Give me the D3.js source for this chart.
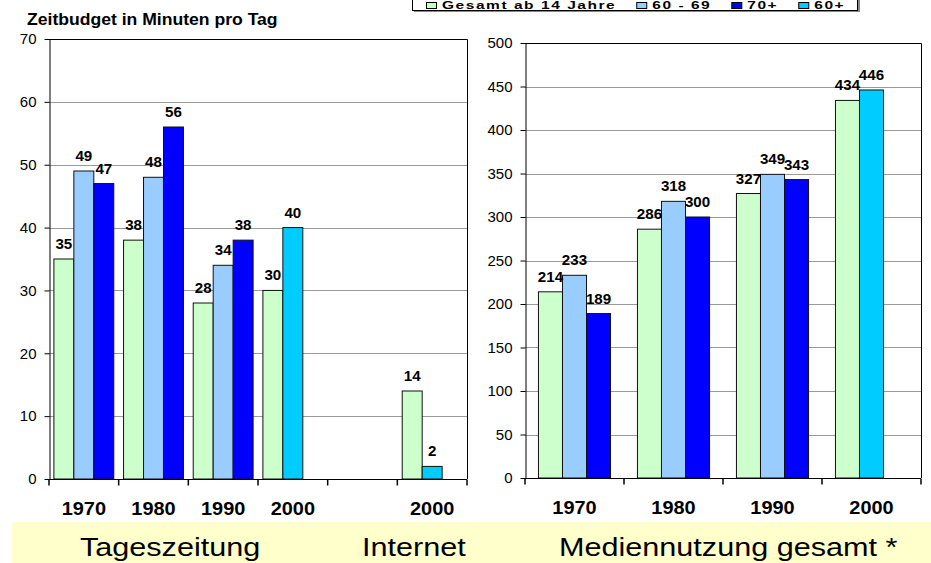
<!DOCTYPE html>
<html>
<head>
<meta charset="utf-8">
<script src="https://cdn.jsdelivr.net/npm/d3@7"></script>
<style>
  body { margin:0; background:#fff; }
  svg { display:block; font-family:"Liberation Sans", Arial, sans-serif; }
</style>
</head>
<body>
<script>
// series (legend order)
var seriesNames = ["Gesamt ab 14 Jahre", "60 - 69", "70+", "60+"];
var seriesColors = ["#CCFFCC", "#99CCFF", "#0000FF", "#00CCFF"];
var seriesSlot = [0, 1, 2, 1];   // position of the bar inside a category

// left panel: Tageszeitung (1970-2000) + Internet (2000)
var leftLabels   = ["1970", "1980", "1990", "2000", "", "2000"];
var leftGesamt   = [35, 38, 28, 30, null, 14];
var left6069     = [49, 48, 34, null, null, null];
var left70       = [47, 56, 38, null, null, null];
var left60plus   = [null, null, null, 40, null, 2];
var leftTicks    = [0, 10, 20, 30, 40, 50, 60, 70];

// right panel: Mediennutzung gesamt
var rightLabels  = ["1970", "1980", "1990", "2000"];
var rightGesamt  = [214, 286, 327, 434];
var right6069    = [233, 318, 349, null];
var right70      = [189, 300, 343, null];
var right60plus  = [null, null, null, 446];
var rightTicks   = [0, 50, 100, 150, 200, 250, 300, 350, 400, 450, 500];

var titleText = "Zeitbudget in Minuten pro Tag";
var sectionLabels = ["Tageszeitung", "Internet", "Mediennutzung gesamt *"];

var W = 931, H = 563;
var svg = d3.select("body").append("svg").attr("width", W).attr("height", H);

// keeps the anchor point, widens the glyphs
function stretch(sel, sx) {
  sel.attr("transform", function() {
    var x = +this.getAttribute("x") || 0;
    return "translate(" + (x * (1 - sx)) + ",0) scale(" + sx + ",1)";
  });
}

function drawPanel(p) {
  var x = d3.scaleBand().domain(d3.range(p.labels.length)).range([p.x0, p.x1]);
  var slot = d3.scaleBand().domain([0, 1, 2]).range([0, x.bandwidth()])
      .paddingInner(0).paddingOuter(p.pad);
  var y = d3.scaleLinear().domain([0, p.ticks[p.ticks.length - 1]]).range([p.y0, p.y1]);
  var g = svg.append("g");

  // gridlines
  g.selectAll(".grid").data(p.ticks.slice(1, -1)).enter().append("line")
      .attr("x1", p.x0).attr("x2", p.x1)
      .attr("y1", function(d) { return Math.round(y(d)) + 0.5; })
      .attr("y2", function(d) { return Math.round(y(d)) + 0.5; })
      .attr("stroke", "#9a9a9a").attr("stroke-width", 1);

  // plot frame top + right
  g.append("path")
      .attr("d", "M" + p.x0 + "," + (Math.round(p.y1) + 0.5) + "H" + (p.x1 + 0.5) + "V" + p.y0)
      .attr("fill", "none").attr("stroke", "#000");

  var bars = [];
  p.series.forEach(function(vals, s) {
    vals.forEach(function(v, i) { if (v != null) bars.push({s: s, i: i, v: v}); });
  });

  g.selectAll("rect.bar").data(bars).enter().append("rect")
      .attr("class", "bar")
      .attr("x", function(d) { return x(d.i) + slot(seriesSlot[d.s]); })
      .attr("width", slot.bandwidth())
      .attr("y", function(d) { return y(d.v); })
      .attr("height", function(d) { return y(0) - y(d.v); })
      .attr("fill", function(d) { return seriesColors[d.s]; })
      .attr("stroke", "#111").attr("stroke-width", 1);

  // value labels
  g.selectAll("text.val").data(bars).enter().append("text")
      .attr("class", "val")
      .attr("x", function(d) { return x(d.i) + slot(seriesSlot[d.s]) + slot.bandwidth() / 2; })
      .attr("y", function(d) { return y(d.v) - 10; })
      .attr("text-anchor", "middle")
      .attr("font-size", 14).attr("font-weight", "bold").attr("fill", "#000")
      .text(function(d) { return d.v; })
      .call(stretch, 1.08);

  // y axis
  var ya = g.append("g")
      .attr("transform", "translate(" + (p.x0 + 0.5) + ",0)")
      .call(d3.axisLeft(y).tickValues(p.ticks).tickSize(5).tickSizeOuter(0).tickPadding(8));
  ya.selectAll("path, line").attr("stroke", "#000");
  ya.selectAll("text").attr("font-size", 15).attr("font-family", "Liberation Sans, Arial, sans-serif")
      .attr("fill", "#000");

  // x axis with ticks on the category boundaries
  var xa = g.append("g").attr("transform", "translate(0," + (Math.round(p.y0) + 0.5) + ")");
  xa.append("line").attr("x1", p.x0).attr("x2", p.x1).attr("stroke", "#000");
  xa.selectAll("line.tk").data(d3.range(p.labels.length + 1)).enter().append("line")
      .attr("class", "tk")
      .attr("x1", function(i) { return p.x0 + i * x.step(); })
      .attr("x2", function(i) { return p.x0 + i * x.step(); })
      .attr("y1", 0).attr("y2", 6)
      .attr("stroke", "#000").attr("stroke-width", 1.5);

  g.selectAll("text.cat").data(p.labels).enter().append("text")
      .attr("class", "cat")
      .attr("x", function(d, i) { return x(i) + x.bandwidth() / 2; })
      .attr("y", p.y0 + 36)
      .attr("text-anchor", "middle")
      .attr("font-size", 17.5).attr("font-weight", "bold").attr("fill", "#000")
      .text(function(d) { return d; })
      .call(stretch, 1.14);
}

drawPanel({
  labels: leftLabels, ticks: leftTicks,
  series: [leftGesamt, left6069, left70, left60plus],
  x0: 49, x1: 467, y0: 479, y1: 39, pad: 0.245
});

drawPanel({
  labels: rightLabels, ticks: rightTicks,
  series: [rightGesamt, right6069, right70, right60plus],
  x0: 525, x1: 921, y0: 478, y1: 43, pad: 0.56
});

// title
svg.append("text")
    .attr("x", 27).attr("y", 25)
    .attr("font-size", 16).attr("font-weight", "bold").attr("fill", "#000")
    .text(titleText)
    .call(stretch, 1.1);

// legend (top edge cut off by the picture)
var lg = svg.append("g");
lg.append("rect").attr("x", 414).attr("y", -10).attr("width", 446).attr("height", 22)
    .attr("fill", "#888");
lg.append("rect").attr("x", 412.5).attr("y", -10).attr("width", 445).attr("height", 20.5)
    .attr("fill", "#fff").attr("stroke", "#000");
var lx = 426;
seriesNames.forEach(function(name, i) {
  lg.append("rect").attr("x", lx + 0.5).attr("y", 2.5).attr("width", 10).attr("height", 6)
      .attr("fill", seriesColors[i]).attr("stroke", "#000");
  var t = lg.append("text").attr("x", lx + 16).attr("y", 9.5)
      .attr("font-size", 10).attr("font-weight", "bold").attr("letter-spacing", 1)
      .attr("fill", "#000").text(name)
      .call(stretch, 1.55);
  lx += 16 + t.node().getComputedTextLength() * 1.55 + 20;
});

// section band at the bottom
svg.append("rect").attr("x", 12).attr("y", 522).attr("width", W - 12).attr("height", H - 522)
    .attr("fill", "#FFFFCC");
var secX = [80, 362, 559];
sectionLabels.forEach(function(s, i) {
  svg.append("text").attr("x", secX[i]).attr("y", 556)
      .attr("font-size", 26.5).attr("fill", "#000").text(s)
      .call(stretch, 1.155);
});
</script>
</body>
</html>
